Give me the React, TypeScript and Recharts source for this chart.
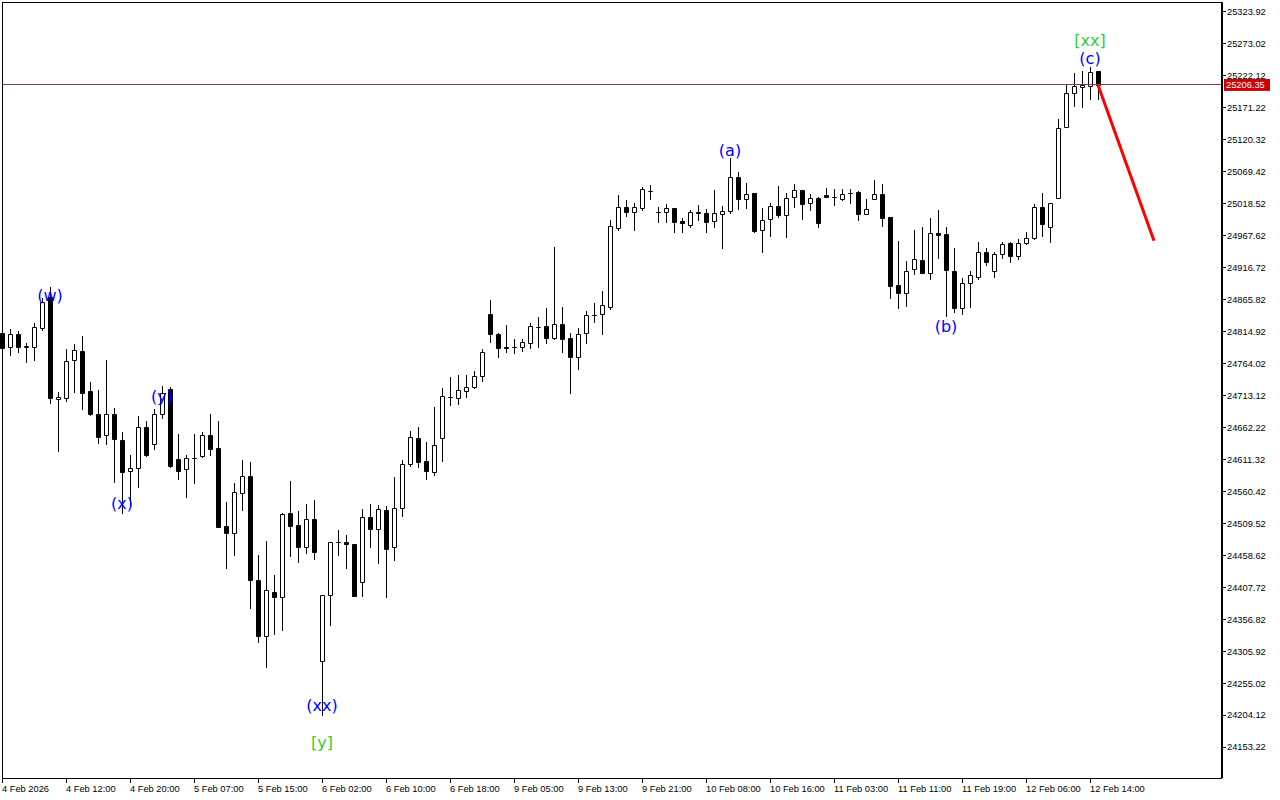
import {
  ComposedChart,
  Bar,
  Line,
  XAxis,
  YAxis,
  ReferenceLine,
  ReferenceDot,
} from 'recharts';

// hourly candles, 4 Feb 04:00 .. 12 Feb 15:00
const OPEN = [
  24811.7, 24789.5, 24810.1, 24789.5, 24789.5, 24819.7, 24869.0, 24706.7, 24708.3, 24768.8,
  24783.1, 24719.5, 24682.9, 24649.5, 24682.9, 24641.5, 24592.2, 24597.0, 24662.2, 24635.2,
  24682.9, 24722.7, 24611.3, 24595.4, 24612.9, 24616.1, 24649.5, 24628.8, 24504.7, 24493.6,
  24557.2, 24584.3, 24418.9, 24329.8, 24399.8, 24391.8, 24525.4, 24506.3, 24471.3, 24515.9,
  24290.0, 24395.0, 24479.3, 24479.3, 24476.1, 24415.7, 24519.1, 24500.0, 24530.2, 24471.3,
  24533.4, 24603.4, 24644.7, 24608.1, 24590.6, 24644.7, 24709.9, 24708.3, 24719.5, 24725.8,
  24743.3, 24842.0, 24810.1, 24789.5, 24789.5, 24789.5, 24795.8, 24821.3, 24822.9, 24803.8,
  24826.1, 24803.8, 24773.6, 24811.7, 24840.4, 24842.0, 24853.1, 24978.7, 25012.1, 25004.2,
  25010.6, 25037.6, 25004.2, 25004.2, 25010.6, 24989.9, 24983.5, 25004.2, 25002.6, 24989.9,
  25001.0, 25005.8, 25059.9, 25024.9, 25034.4, 24975.6, 24993.1, 25013.7, 24999.4, 25028.0,
  25039.2, 25018.5, 25026.5, 25031.2, 25028.0, 25024.9, 25034.4, 25036.0, 25001.0, 25024.9,
  25032.8, 24996.2, 24888.1, 24875.4, 24913.5, 24927.8, 24907.2, 24970.8, 24969.2, 24910.4,
  24851.5, 24891.3, 24900.8, 24940.6, 24910.4, 24937.4, 24954.9, 24934.2, 24954.9, 24962.8,
  25012.1, 24980.3, 25026.5, 25139.4, 25193.5, 25203.0, 25204.6, 25228.5,
];
const HIGH = [
  24816.5, 24818.1, 24814.9, 24795.8, 24827.6, 24867.4, 24884.9, 24717.9, 24786.3, 24794.2,
  24807.0, 24733.8, 24721.1, 24768.8, 24692.4, 24654.3, 24617.7, 24679.7, 24671.8, 24690.8,
  24727.4, 24725.8, 24651.1, 24617.7, 24651.1, 24654.3, 24682.9, 24671.8, 24542.9, 24573.1,
  24609.7, 24606.5, 24458.6, 24480.9, 24426.8, 24525.4, 24576.3, 24528.6, 24539.7, 24546.1,
  24395.5, 24479.8, 24498.4, 24490.4, 24476.5, 24531.8, 24539.7, 24538.1, 24536.6, 24582.7,
  24609.7, 24655.8, 24662.2, 24638.4, 24694.0, 24724.2, 24741.7, 24744.9, 24744.9, 24751.3,
  24786.3, 24864.2, 24811.7, 24824.5, 24802.2, 24802.2, 24827.6, 24837.2, 24851.5, 24948.5,
  24853.1, 24811.7, 24819.7, 24846.7, 24859.5, 24878.5, 24991.5, 25031.2, 25023.3, 25018.5,
  25044.0, 25047.1, 25012.1, 25016.9, 25011.0, 24994.6, 25007.4, 25015.3, 25009.0, 25039.2,
  25013.7, 25090.1, 25067.8, 25050.3, 25034.8, 25010.6, 25018.5, 25045.5, 25034.4, 25048.7,
  25039.6, 25032.8, 25028.0, 25042.4, 25040.8, 25040.8, 25040.8, 25037.6, 25024.9, 25055.1,
  25048.7, 24996.6, 24958.1, 24926.3, 24975.6, 24980.3, 24994.6, 25007.4, 24980.3, 24946.9,
  24899.2, 24910.4, 24956.5, 24946.9, 24940.6, 24956.5, 24956.5, 24961.2, 24972.4, 25016.9,
  25034.4, 25018.9, 25152.1, 25207.8, 25225.3, 25228.5, 25234.8, 25228.9,
];
const LOW = [
  24784.7, 24776.7, 24781.5, 24765.6, 24768.8, 24816.5, 24700.4, 24624.0, 24703.6, 24717.9,
  24690.8, 24681.3, 24636.8, 24635.2, 24574.7, 24525.4, 24538.1, 24566.8, 24616.1, 24627.2,
  24676.5, 24598.6, 24579.5, 24550.9, 24573.1, 24614.5, 24617.7, 24502.5, 24437.9, 24458.6,
  24530.2, 24374.3, 24320.2, 24280.5, 24333.0, 24339.3, 24457.0, 24447.5, 24461.8, 24452.3,
  24204.1, 24347.3, 24458.6, 24437.9, 24393.0, 24393.4, 24471.3, 24445.9, 24391.8, 24450.7,
  24520.6, 24600.2, 24598.6, 24579.5, 24585.9, 24608.1, 24697.2, 24698.8, 24709.9, 24724.2,
  24735.4, 24797.4, 24773.6, 24781.5, 24779.9, 24783.1, 24787.9, 24789.5, 24795.8, 24802.2,
  24781.5, 24716.3, 24754.5, 24795.8, 24829.2, 24810.1, 24849.9, 24975.6, 24997.8, 24975.6,
  25007.4, 25024.9, 24988.3, 24988.3, 24972.4, 24972.4, 24980.3, 24991.5, 24972.4, 24980.3,
  24946.9, 25002.6, 25009.0, 25010.6, 24972.4, 24940.6, 24966.0, 24996.2, 24964.4, 25012.1,
  24993.1, 25007.4, 24980.3, 25027.6, 25015.3, 25023.3, 25018.5, 24991.5, 25000.6, 25024.5,
  24981.9, 24867.4, 24851.5, 24854.7, 24905.6, 24906.8, 24897.6, 24931.0, 24838.8, 24845.1,
  24842.0, 24853.1, 24897.6, 24919.9, 24900.8, 24931.0, 24924.7, 24929.4, 24953.3, 24961.2,
  24966.0, 24956.5, 25026.0, 25139.0, 25172.8, 25171.2, 25183.9, 25183.9,
];
const CLOSE = [
  24787.9, 24810.1, 24789.5, 24790.5, 24821.3, 24861.0, 24708.3, 24709.9, 24767.2, 24784.7,
  24716.3, 24682.9, 24646.3, 24682.9, 24643.1, 24590.6, 24597.0, 24662.2, 24617.7, 24682.9,
  24716.3, 24600.2, 24592.2, 24612.9, 24613.5, 24649.5, 24627.2, 24503.1, 24493.6, 24558.8,
  24584.3, 24418.9, 24329.8, 24403.0, 24391.8, 24523.8, 24504.7, 24471.3, 24515.9, 24463.4,
  24395.0, 24479.3, 24479.8, 24476.1, 24393.4, 24519.1, 24500.0, 24531.8, 24468.2, 24533.4,
  24603.4, 24646.3, 24606.5, 24592.2, 24633.6, 24711.5, 24710.5, 24721.1, 24725.8, 24743.3,
  24781.5, 24810.1, 24787.9, 24787.9, 24790.0, 24797.4, 24822.9, 24821.8, 24803.8, 24826.1,
  24802.2, 24773.6, 24810.1, 24840.4, 24841.0, 24856.3, 24981.9, 25012.1, 25004.2, 25012.1,
  25040.8, 25038.1, 25004.7, 25010.6, 24988.3, 24986.7, 25004.2, 25002.6, 24988.3, 25002.6,
  25005.8, 25059.9, 25024.9, 25032.8, 24974.0, 24991.5, 25013.7, 24999.4, 25026.5, 25039.2,
  25016.9, 25026.5, 24986.7, 25028.0, 25028.5, 25032.8, 25034.9, 25001.0, 25009.0, 25032.8,
  24994.6, 24886.5, 24875.4, 24910.4, 24929.4, 24907.2, 24970.8, 24967.6, 24911.9, 24851.5,
  24891.3, 24904.0, 24940.6, 24924.7, 24937.4, 24953.3, 24934.2, 24954.9, 24962.8, 25012.1,
  24985.1, 25018.5, 25137.8, 25193.5, 25204.6, 25206.2, 25226.9, 25206.35,
];

const FUTURE_BARS = 15; // empty space to the right of the last candle

const TICK_IDX = [0, 8, 16, 24, 32, 40, 48, 56, 64, 72, 80, 88, 96, 104, 112, 120, 128, 136];
const TICK_TEXT = [
  '4 Feb 2026', '4 Feb 12:00', '4 Feb 20:00', '5 Feb 07:00', '5 Feb 15:00', '6 Feb 02:00',
  '6 Feb 10:00', '6 Feb 18:00', '9 Feb 05:00', '9 Feb 13:00', '9 Feb 21:00', '10 Feb 08:00',
  '10 Feb 16:00', '11 Feb 03:00', '11 Feb 11:00', '11 Feb 19:00', '12 Feb 06:00', '12 Feb 14:00',
];

const PRICE_TICKS = [
  25323.92, 25273.02, 25222.12, 25171.22, 25120.32, 25069.42, 25018.52, 24967.62,
  24916.72, 24865.82, 24814.92, 24764.02, 24713.12, 24662.22, 24611.32, 24560.42,
  24509.52, 24458.62, 24407.72, 24356.82, 24305.92, 24255.02, 24204.12, 24153.22,
];
const PRICE_DOMAIN = [24103.91, 25338.24];
const LAST_PRICE = 25206.35;

// forecast arrow
const PROJ_IDX = [137, 144];
const PROJ_VAL = [25206.35, 24958.5];

// wave labels
const WAVE_TEXT = ['(w)', '(x)', '(y)', '(xx)', '[y]', '(a)', '(b)', '(c)', '[xx]'];
const WAVE_IDX = [6, 15, 20, 40, 40, 91, 118, 136, 136];
const WAVE_VAL = [24871, 24541, 24711, 24220, 24161, 25103, 24823, 25249, 25278];

const AXIS_FONT = '"Liberation Sans", Arial, sans-serif';

const data = Array.from({ length: OPEN.length + FUTURE_BARS }, (_, i) => {
  const row: Record<string, any> = { i };
  if (i < OPEN.length) {
    row.o = OPEN[i];
    row.h = HIGH[i];
    row.l = LOW[i];
    row.c = CLOSE[i];
    row.range = [LOW[i], HIGH[i]];
  }
  const p = PROJ_IDX.indexOf(i);
  if (p >= 0) row.proj = PROJ_VAL[p];
  return row;
});

function Candle(props: any) {
  const { x, y, width, height, payload } = props;
  if (!payload || payload.h == null) return null;
  const top = Math.min(y, y + height);
  const h = Math.abs(height);
  const span = payload.h - payload.l || 1;
  const py = (v: number) => top + ((payload.h - v) / span) * h;
  const cx = Math.round(x + width / 2) + 0.5;
  const up = payload.c >= payload.o;
  const bTop = Math.round(py(Math.max(payload.o, payload.c))) + 0.5;
  const bBot = Math.round(py(Math.min(payload.o, payload.c))) + 0.5;
  return (
    <g>
      <line x1={cx} x2={cx} y1={Math.round(top)} y2={Math.round(top + h) + 1} stroke="#000" />
      <path
        d={`M${cx - 2} ${bTop} H${cx + 2} V${bBot} H${cx - 2} Z`}
        fill={up ? '#fff' : '#000'}
        stroke="#000"
      />
    </g>
  );
}

function TimeTick({ x, y, payload }: any) {
  const k = TICK_IDX.indexOf(payload.value);
  if (k < 0) return null;
  const tx = Math.round(x) + 0.5;
  return (
    <g>
      <line x1={tx} x2={tx} y1={y} y2={y + 5} stroke="#000" />
      <text x={x} y={y + 14} fontSize={9.3} fontFamily={AXIS_FONT} fill="#000" textAnchor="start">
        {TICK_TEXT[k]}
      </text>
    </g>
  );
}

function PriceTick({ x, y, payload }: any) {
  const ty = Math.round(y) + 0.5;
  return (
    <g>
      <line x1={x} x2={x + 4} y1={ty} y2={ty} stroke="#000" />
      <text x={x + 5} y={y + 3.5} fontSize={9.3} fontFamily={AXIS_FONT} fill="#000" textAnchor="start">
        {Number(payload.value).toFixed(2)}
      </text>
    </g>
  );
}

function PriceTag(props: any) {
  const vb = props.viewBox || {};
  const x = vb.x + vb.width + 2;
  const y = vb.y;
  return (
    <g>
      <rect x={x} y={y - 6} width={46} height={12} fill="#cc0000" />
      <text x={x + 2} y={y + 3.5} fontSize={9.3} fontFamily={AXIS_FONT} fill="#fff" textAnchor="start">
        {LAST_PRICE.toFixed(2)}
      </text>
    </g>
  );
}

export default function App() {
  return (
    <div style={{ position: 'absolute', left: 0, top: 0, width: 1280, height: 800, background: '#fff' }}>
      <ComposedChart
        width={1280}
        height={800}
        data={data}
        margin={{ top: 2, right: 0, bottom: 0, left: 2 }}
      >
        <XAxis
          dataKey="i"
          type="category"
          ticks={TICK_IDX}
          interval={0}
          padding={{ left: -4, right: 0 }}
          height={22}
          tickLine={false}
          tickSize={0}
          tickMargin={0}
          axisLine={{ stroke: '#000', shapeRendering: 'crispEdges' }}
          tick={<TimeTick />}
        />
        <YAxis
          orientation="right"
          width={58}
          domain={PRICE_DOMAIN}
          allowDataOverflow
          ticks={PRICE_TICKS}
          interval={0}
          tickLine={false}
          tickSize={0}
          tickMargin={0}
          axisLine={{ stroke: '#000', strokeWidth: 2 }}
          tick={<PriceTick />}
        />
        <ReferenceLine
          y={LAST_PRICE}
          stroke="#7a4040"
          shapeRendering="crispEdges"
          label={<PriceTag />}
        />
        <Bar dataKey="range" shape={<Candle />} isAnimationActive={false} />
        <Line
          dataKey="proj"
          stroke="#ff0000"
          strokeWidth={3}
          dot={false}
          connectNulls
          isAnimationActive={false}
        />
        {WAVE_TEXT.map((t, k) => (
          <ReferenceDot
            key={k}
            x={WAVE_IDX[k]}
            y={WAVE_VAL[k]}
            r={1}
            fill="none"
            stroke="none"
            label={{
              value: t,
              position: 'center',
              fill: t.startsWith('[') ? '#32cd32' : '#0000ff',
              fontSize: 16,
              fontFamily: '"DejaVu Sans", sans-serif',
            }}
          />
        ))}
      </ComposedChart>
      <div
        style={{
          position: 'absolute',
          left: 2,
          top: 2,
          width: 1220,
          height: 776,
          borderLeft: '1px solid #000',
          borderTop: '1px solid #000',
          pointerEvents: 'none',
        }}
      />
    </div>
  );
}
